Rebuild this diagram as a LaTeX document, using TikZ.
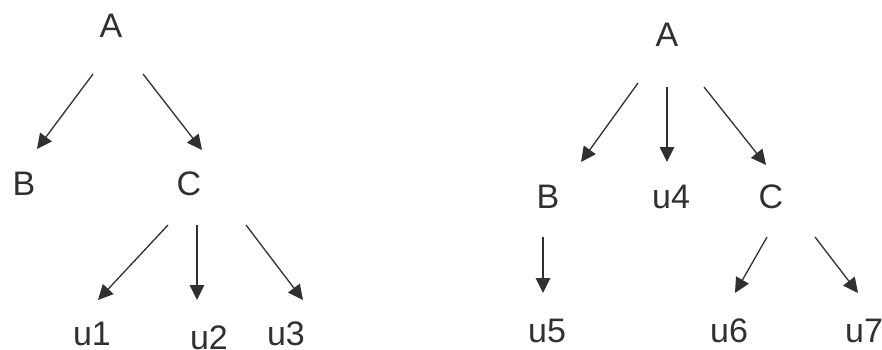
\documentclass[tikz,border=0pt]{standalone}
\usepackage{fontspec}
\setmainfont{Liberation Sans}
\usetikzlibrary{arrows.meta}
\definecolor{ink}{HTML}{303030}
\tikzset{
  lbl/.style={anchor=base, inner sep=0pt, text depth=0pt, text=ink, font=\fontsize{34}{40}\selectfont},
  edge/.style={draw=ink, line width=1.3pt, -{Triangle[length=15pt,width=14.5pt]}},
}
\begin{document}
\begin{tikzpicture}[x=1pt, y=-1pt]
\useasboundingbox (0,0) rectangle (882,350);

% left tree
\node[lbl] (lA) at (111,38) {A};
\node[lbl] (lB) at (24,195) {B};
\node[lbl] (lC) at (189,195) {C};
\node[lbl] (u1) at (92,345) {u1};
\node[lbl] (u2) at (209,349) {u2};
\node[lbl] (u3) at (286,345) {u3};

\draw[edge] ([shift={(-18,36)}]lA.base) -- ([shift={(13,-46)}]lB.base);
\draw[edge] ([shift={(32,36)}]lA.base) -- ([shift={(13,-45)}]lC.base);
\draw[edge] ([shift={(-21,30)}]lC.base) -- ([shift={(6,-45)}]u1.base);
\draw[edge] ([shift={(8,30)}]lC.base) -- ([shift={(-12,-49)}]u2.base);
\draw[edge] ([shift={(57,30)}]lC.base) -- ([shift={(17,-45)}]u3.base);

% right tree
\node[lbl] (rA) at (667,47) {A};
\node[lbl] (rB) at (548,208) {B};
\node[lbl] (u4) at (671,208) {u4};
\node[lbl] (rC) at (771,208) {C};
\node[lbl] (u5) at (547,342) {u5};
\node[lbl] (u6) at (729,342) {u6};
\node[lbl] (u7) at (864,342) {u7};

\draw[edge] ([shift={(-29,36)}]rA.base) -- ([shift={(33,-46)}]rB.base);
\draw[edge] ([shift={(0,40)}]rA.base) -- ([shift={(-4,-46)}]u4.base);
\draw[edge] ([shift={(37,40)}]rA.base) -- ([shift={(-5,-43)}]rC.base);
\draw[edge] ([shift={(-5,29)}]rB.base) -- ([shift={(-4,-49)}]u5.base);
\draw[edge] ([shift={(-4,29)}]rC.base) -- ([shift={(6,-49)}]u6.base);
\draw[edge] ([shift={(44,29)}]rC.base) -- ([shift={(-6,-49)}]u7.base);
\end{tikzpicture}
\end{document}
